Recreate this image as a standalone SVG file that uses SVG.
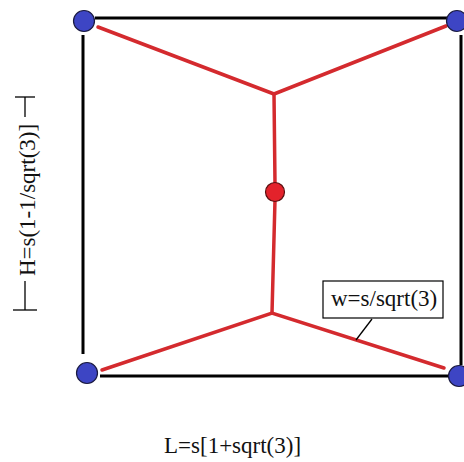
<svg xmlns="http://www.w3.org/2000/svg" width="464" height="462" viewBox="0 0 464 462">
<style>
.frame{stroke:#000;stroke-width:3;fill:none;stroke-linecap:butt}
.red{stroke:#d42a2e;stroke-width:3.5;fill:none;stroke-linecap:round}
.blue{fill:#3d45c4;stroke:#1a1a40;stroke-width:1.2}
.rdot{fill:#e3222b;stroke:#5a1010;stroke-width:1.2}
.lbl{font-family:"Liberation Serif","Times New Roman",serif;font-size:23px;fill:#111}
.thin{stroke:#000;stroke-width:1.3;fill:none}
</style>
<rect width="464" height="462" fill="#fff"/>
<g id="connectors">
<line class="frame" x1="95" y1="18" x2="447" y2="18"/>
<line class="frame" x1="83" y1="35" x2="83" y2="354"/>
<line class="frame" x1="461" y1="35" x2="461" y2="365"/>
<line class="frame" x1="100" y1="376" x2="448" y2="376"/>
<polyline class="red" points="98,27 274,94 446,26"/>
<line class="red" x1="274" y1="94" x2="275" y2="184"/>
<line class="red" x1="275" y1="200" x2="272" y2="313"/>
<polyline class="red" points="102,370 272,313 444,368"/>
</g>
<g id="node-tl"><circle class="blue" cx="84" cy="21" r="10.5"/></g>
<g id="node-tr"><circle class="blue" cx="457" cy="21" r="10.5"/></g>
<g id="node-bl"><circle class="blue" cx="87" cy="373" r="10.5"/></g>
<g id="node-br"><circle class="blue" cx="459" cy="376" r="10.5"/></g>
<g id="node-center"><circle class="rdot" cx="275" cy="192" r="9.5"/></g>
<g id="label-w">
<rect x="323" y="281" width="120" height="37" fill="#fff" stroke="#000" stroke-width="1.2"/>
<text class="lbl" x="331" y="306">w=s/sqrt(3)</text>
<line class="thin" x1="372" y1="319" x2="356" y2="340"/>
</g>
<g id="label-h">
<line class="thin" x1="15" y1="97" x2="35" y2="97"/>
<line class="thin" x1="25" y1="97" x2="25" y2="117"/>
<line class="thin" x1="25" y1="281" x2="25" y2="310"/>
<line class="thin" x1="13" y1="310" x2="37" y2="310"/>
<text class="lbl" transform="translate(35,200) rotate(-90)" text-anchor="middle">H=s(1-1/sqrt(3)]</text>
</g>
<g id="label-l">
<text class="lbl" x="164" y="453">L=s[1+sqrt(3)]</text>
</g>
</svg>
